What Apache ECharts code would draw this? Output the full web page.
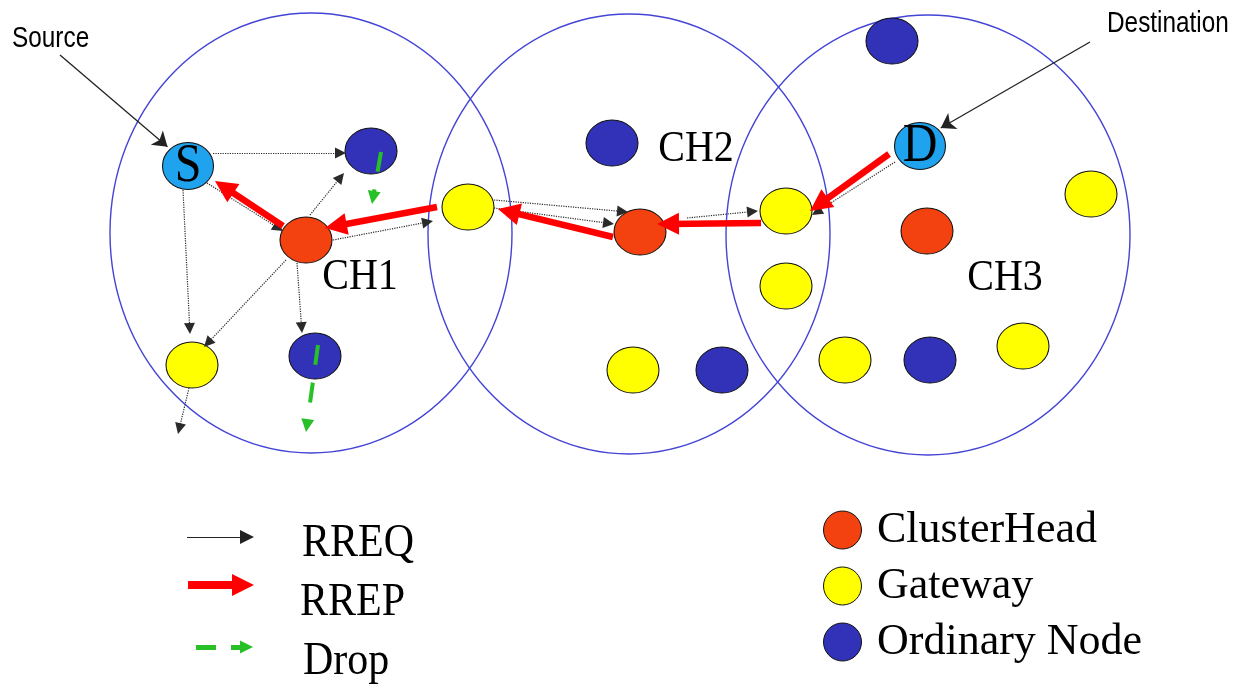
<!DOCTYPE html>
<html><head><meta charset="utf-8">
<script src="https://cdn.jsdelivr.net/npm/echarts@6/dist/echarts.min.js"></script>
<style>html,body{margin:0;padding:0;background:#fff}#c{width:1248px;height:689px}</style>
</head><body><div id="c"></div>
<script>
// ---- data (diagram units on hidden 0..1248 x 0..689 axes) ----
const clusters = [[311, 233, 201, 220], [629, 234, 201, 220], [928, 235, 202, 220]]; // cx, cy, rx, ry
const clusterHeads = [[306, 240], [640, 232], [927, 231]];
const gateways = [[192, 365], [468, 207], [786, 211], [786, 286], [633, 370], [845, 360], [1023, 346], [1091, 194]];
const ordinaryNodes = [[371, 151], [315, 356], [612, 143], [722, 370], [930, 360], [892, 41]];
const endpoints = [[188, 166], [920, 146]];
const endpointNames = ['S', 'D'];

// arrows: x1, y1, x2(tip), y2(tip)
const rreqArrows = [
  [213, 153, 346, 153], [207, 183, 283, 231], [183, 190, 190, 334], [310, 215, 344, 173],
  [286, 260, 204, 347], [297, 263, 302, 333], [333, 240, 433, 221], [189, 388, 178, 434],
  [494, 200, 628, 212], [494, 208, 614, 224], [687, 218, 758, 211], [895, 162, 812, 215]
];
const rrepArrows = [
  [283, 226, 215, 181], [437, 207, 325, 228], [613, 237, 498, 209], [761, 223, 657, 224], [889, 154, 810, 211]
];
const dropArrows = [[381, 152, 372, 204], [318, 345, 306, 432]];
const pointerArrows = [[60, 55, 169, 148], [1090, 42, 939, 129]];

const clusterLabels = ['CH1', 'CH2', 'CH3'];
const clusterLabelPos = [[360, 277], [696, 149], [1005, 278]];
const pointerLabels = ['Source', 'Destination'];
const pointerLabelPos = [[12, 39], [1107, 24]];

const nodeTypes = ['ClusterHead', 'Gateway', 'Ordinary Node'];
const arrowTypes = ['RREQ', 'RREP', 'Drop'];
const arrowLegendPos = [[187, 537, 254, 537], [188, 585, 254, 585], [196, 647, 253, 647]];
const arrowLegendLabelPos = [[302, 544], [300, 603], [303, 662]];

// ---- build ----
const ellipse = 'path://M0 50A50 50 0 1 1 100 50A50 50 0 1 1 0 50Z';
function seg(a, head) {
  const dx = a[2] - a[0], dy = a[3] - a[1], L = Math.hypot(dx, dy);
  const k = head / 2 / L;
  return { coords: [[a[0], a[1]], [a[2] - dx * k, a[3] - dy * k]] };
}
function textSeries(labels, pos, font, opts) {
  return {
    type: 'custom', coordinateSystem: 'cartesian2d', silent: true, z: 20,
    data: pos,
    renderItem: function (p, api) {
      const pt = api.coord([api.value(0), api.value(1)]);
      return {
        type: 'text', x: pt[0], y: pt[1], scaleX: opts.sx || 1, scaleY: opts.sy || 1,
        style: { text: labels[p.dataIndex], font: font, fill: '#000', align: opts.align || 'left', verticalAlign: 'middle' }
      };
    }
  };
}
const serif = "'Liberation Serif', 'Times New Roman', serif";
const nodeSeries = (name, data, color, size) => ({
  type: 'scatter', name: name, data: data, symbol: ellipse, symbolSize: size || [52, 46], z: 5,
  itemStyle: { color: color, borderColor: '#111', borderWidth: 1, opacity: 1 }, silent: true
});

const chart = echarts.init(document.getElementById('c'), null, { renderer: 'canvas' });
chart.setOption({
  animation: false,
  backgroundColor: '#ffffff',
  grid: { left: 0, right: 0, top: 0, bottom: 0 },
  xAxis: { type: 'value', min: 0, max: 1248, show: false },
  yAxis: { type: 'value', min: 0, max: 689, inverse: true, show: false },
  legend: {
    data: nodeTypes.map(n => ({ name: n, icon: 'circle' })),
    orient: 'vertical', left: 823, top: 508, itemWidth: 41, itemHeight: 38, itemGap: 12, padding: 0,
    selectedMode: false,
    itemStyle: { borderColor: '#111', borderWidth: 1 },
    textStyle: { fontFamily: 'Liberation Serif', fontSize: 44, color: '#000', lineHeight: 40, padding: [0, 0, 0, 9] }
  },
  series: [
    {
      type: 'custom', coordinateSystem: 'cartesian2d', silent: true, z: 1,
      data: clusters,
      renderItem: function (p, api) {
        const c = api.coord([api.value(0), api.value(1)]);
        const s = api.size([api.value(2), api.value(3)]);
        return { type: 'ellipse', shape: { cx: c[0], cy: c[1], rx: s[0], ry: s[1] },
          style: { fill: 'none', stroke: '#4444D6', lineWidth: 1.4 } };
      }
    },
    nodeSeries('ClusterHead', clusterHeads, '#F3410F'),
    nodeSeries('Gateway', gateways, '#FFFF00'),
    nodeSeries('Ordinary Node', ordinaryNodes, '#3232B8'),
    nodeSeries('Endpoint', endpoints, '#1FA3EE', [51, 47]),
    {
      type: 'lines', name: 'RREQ', coordinateSystem: 'cartesian2d', silent: true, z: 7,
      data: rreqArrows.map(a => seg(a, 11)),
      symbol: ['none', 'triangle'], symbolSize: [8, 11],
      lineStyle: { color: '#2a2a2a', width: 1.2, type: 'dotted', opacity: 1 }
    },
    {
      type: 'lines', name: 'Pointer', coordinateSystem: 'cartesian2d', silent: true, z: 7,
      data: pointerArrows.map(a => seg(a, 4)),
      symbol: ['none', 'arrow'], symbolSize: [12, 14],
      lineStyle: { color: '#222', width: 1.3, type: 'solid', opacity: 1 }
    },
    {
      type: 'lines', name: 'RREP', coordinateSystem: 'cartesian2d', silent: true, z: 8,
      data: rrepArrows.map(a => seg(a, 22)),
      symbol: ['none', 'triangle'], symbolSize: [19, 22],
      lineStyle: { color: '#FF0000', width: 6.5, type: 'solid', opacity: 1 }
    },
    {
      type: 'lines', name: 'Drop', coordinateSystem: 'cartesian2d', silent: true, z: 9,
      data: dropArrows.map(a => seg(a, 13)),
      symbol: ['none', 'triangle'], symbolSize: [13, 13],
      lineStyle: { color: '#27C027', width: 4, type: [20, 18], opacity: 1 }
    },
    {
      type: 'lines', name: 'ArrowLegend', coordinateSystem: 'cartesian2d', silent: true, z: 9,
      data: [
        Object.assign(seg(arrowLegendPos[0], 14), { symbolSize: [10, 14], lineStyle: { color: '#222', width: 1.2, type: 'solid', opacity: 1 } }),
        Object.assign(seg(arrowLegendPos[1], 22), { symbolSize: [22, 22], lineStyle: { color: '#FF0000', width: 8, type: 'solid', opacity: 1 } }),
        Object.assign(seg(arrowLegendPos[2], 13), { symbolSize: [13, 13], lineStyle: { color: '#27C027', width: 5, type: [20, 15], opacity: 1 } })
      ],
      symbol: ['none', 'triangle'], symbolSize: [10, 14],
      lineStyle: { opacity: 1 }
    },
    textSeries(endpointNames, endpoints, "48px " + serif, { align: 'center', sy: 1.15 }),
    textSeries(clusterLabels, clusterLabelPos, "40px " + serif, { align: 'center', sy: 1.13 }),
    textSeries(arrowTypes, arrowLegendLabelPos, "42px " + serif, { sy: 1.12 }),
    textSeries(pointerLabels, pointerLabelPos, "29px 'Liberation Sans', Arial, sans-serif", { sx: 0.84 })
  ]
});
</script>
</body></html>
